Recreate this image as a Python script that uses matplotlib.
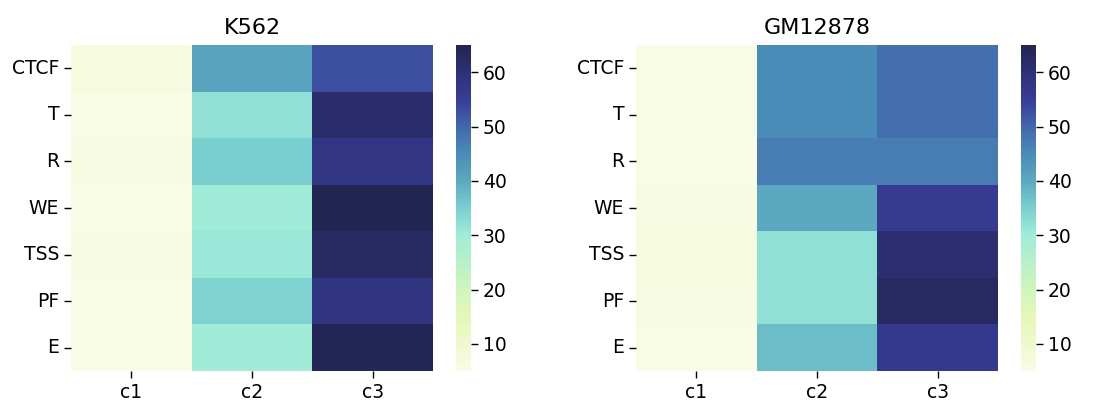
import matplotlib
matplotlib.use("Agg")
import matplotlib.pyplot as plt
import numpy as np
import seaborn as sns
from matplotlib.colors import LinearSegmentedColormap

# row / column labels
rows = ["CTCF", "T", "R", "WE", "TSS", "PF", "E"]
cols = ["c1", "c2", "c3"]

# values, one list per column
k562_c1 = [6.5, 5.5, 6.0, 5.5, 6.0, 5.5, 5.5]
k562_c2 = [41.0, 32.0, 35.0, 30.0, 31.0, 34.5, 30.0]
k562_c3 = [53.0, 61.5, 58.0, 65.0, 63.0, 58.5, 64.5]

gm_c1 = [5.5, 5.5, 5.5, 6.0, 6.5, 6.0, 5.5]
gm_c2 = [45.0, 45.0, 47.0, 40.0, 32.0, 32.0, 37.5]
gm_c3 = [49.0, 49.0, 47.0, 56.0, 61.0, 63.0, 56.5]

titles = ["K562", "GM12878"]
vmin, vmax = 5, 65
cbar_ticks = [10, 20, 30, 40, 50, 60]

# colour scale sampled from the colour bar
cb_vals = [5, 10, 15, 20, 25, 30, 35, 40, 45, 50, 55, 60, 65]
cb_cols = ["#f9fce7", "#eef9cd", "#e4f7b8", "#d0f5bd", "#b8f0c8", "#a0ecd8",
           "#7ad0d0", "#5ba9c0", "#4a8cb8", "#4268ac", "#383d98", "#2e3078",
           "#222552"]
cmap = LinearSegmentedColormap.from_list(
    "ref", [((v - vmin) / (vmax - vmin), c) for v, c in zip(cb_vals, cb_cols)])

data = [np.column_stack([k562_c1, k562_c2, k562_c3]),
        np.column_stack([gm_c1, gm_c2, gm_c3])]

W, H = 1112, 404
fig = plt.figure(figsize=(W / 100, H / 100), dpi=100)

ax_boxes = [(71, 45, 433, 371), (636, 45, 998, 371)]
cb_boxes = [(456, 45, 471, 371), (1021, 45, 1036, 371)]


def box(b):
    x0, y0, x1, y1 = b
    return [x0 / W, (H - y1) / H, (x1 - x0) / W, (y1 - y0) / H]


for i in range(2):
    ax = fig.add_axes(box(ax_boxes[i]))
    cax = fig.add_axes(box(cb_boxes[i]))
    sns.heatmap(data[i], ax=ax, cbar_ax=cax, cmap=cmap, vmin=vmin, vmax=vmax,
                xticklabels=cols, yticklabels=rows,
                cbar_kws={"ticks": cbar_ticks})
    ax.set_title(titles[i], fontsize=16, pad=8)
    ax.tick_params(axis="both", labelsize=13.5, length=5, width=1)
    ax.tick_params(axis="y", rotation=0)
    cax.tick_params(labelsize=13.5, length=5, width=1)

fig.savefig("out.png", dpi=100)
